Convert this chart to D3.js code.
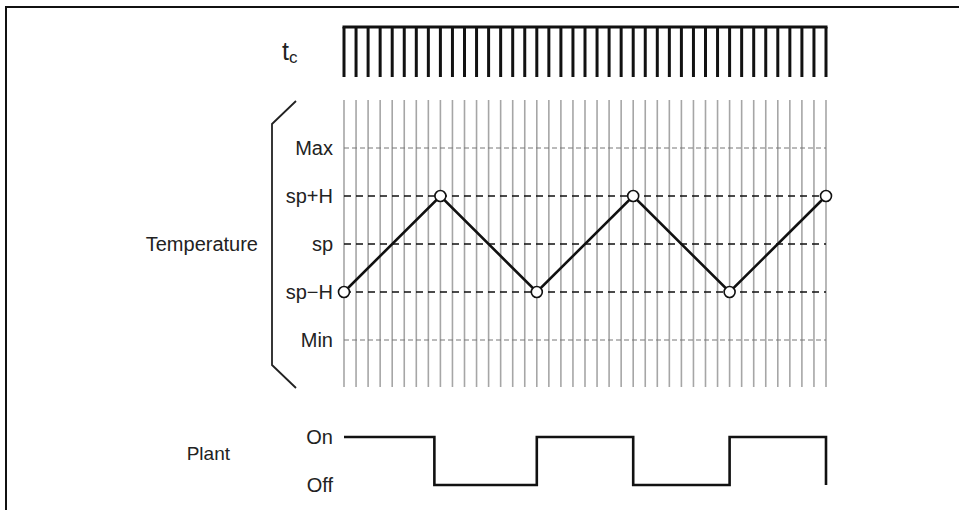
<!DOCTYPE html>
<html><head><meta charset="utf-8">
<script src="https://cdn.jsdelivr.net/npm/d3@7"></script>
<style>body{margin:0;background:#fff}svg{display:block;font-family:"Liberation Sans",Arial,sans-serif}</style>
</head><body>
<svg id="c" width="959" height="510"></svg>
<script>
// ---- data ----
const clockTicks = d3.range(0, 41);               // clock pulses t_c
const levels = ["Max", "sp+H", "sp", "sp-H", "Min"];
const levelLabels = ["Max", "sp+H", "sp", "sp\u2212H", "Min"];
const mainLevels = ["sp+H", "sp", "sp-H"];
const tempTimes = [0, 8, 16, 24, 32, 40];
const tempLevels = ["sp-H", "sp+H", "sp-H", "sp+H", "sp-H", "sp+H"];
const plantTimes = [0, 7.5, 7.5, 16, 16, 24, 24, 32, 32, 40, 40];
const plantStates = ["On", "On", "Off", "Off", "On", "On", "Off", "Off", "On", "On", "Off"];
const plantLevels = ["On", "Off"];

const svg = d3.select("#c");
const x = d3.scaleLinear().domain([0, 40]).range([344, 826]);
const y = d3.scalePoint().domain(levels).range([148, 340]);
const yp = d3.scalePoint().domain(plantLevels).range([437, 485]);
const txt = "#222";
const fs = 20;

// border
svg.append("path").attr("d", "M6,510V7H959").attr("fill", "none").attr("stroke", "#111").attr("stroke-width", 2);

// clock comb
const comb = svg.append("g");
comb.append("line").attr("x1", x(0) - 1.5).attr("x2", x(40) + 1.5).attr("y1", 27).attr("y2", 27)
  .attr("stroke", "#111").attr("stroke-width", 3);
comb.selectAll("line.t").data(clockTicks).join("line").attr("class", "t")
  .attr("x1", d => x(d)).attr("x2", d => x(d)).attr("y1", 27).attr("y2", 77)
  .attr("stroke", "#111").attr("stroke-width", 3);
const tc = svg.append("text").attr("x", 282).attr("y", 60).attr("fill", txt).attr("font-size", 25);
tc.append("tspan").text("t");
tc.append("tspan").attr("font-size", 17).attr("dy", 3).text("c");

// vertical grid
svg.append("g").selectAll("line").data(clockTicks).join("line")
  .attr("x1", d => x(d)).attr("x2", d => x(d)).attr("y1", 100).attr("y2", 387)
  .attr("stroke", "#a6a6a6").attr("stroke-width", 1.6);

// horizontal dashed levels
svg.append("g").selectAll("line").data(levels).join("line")
  .attr("x1", x(0)).attr("x2", x(40)).attr("y1", d => y(d)).attr("y2", d => y(d))
  .attr("stroke", d => mainLevels.includes(d) ? "#111" : "#777")
  .attr("stroke-width", d => mainLevels.includes(d) ? 1.6 : 1)
  .attr("stroke-dasharray", d => mainLevels.includes(d) ? "7,5" : "5,3");

// level labels
svg.append("g").selectAll("text").data(levels).join("text")
  .attr("x", 333).attr("y", d => y(d)).attr("dy", "0.35em").attr("text-anchor", "end")
  .attr("font-size", fs).attr("fill", txt).text((d, i) => levelLabels[i]);

// bracket
svg.append("path").attr("d", "M296,101L272,124V365L296,388").attr("fill", "none")
  .attr("stroke", "#222").attr("stroke-width", 1.8);
svg.append("text").attr("x", 258).attr("y", 244).attr("dy", "0.35em").attr("text-anchor", "end")
  .attr("font-size", fs).attr("fill", txt).text("Temperature");

// temperature line
const tempPts = tempTimes.map((t, i) => [x(t), y(tempLevels[i])]);
svg.append("path").attr("d", d3.line()(tempPts)).attr("fill", "none")
  .attr("stroke", "#111").attr("stroke-width", 2.6);
svg.append("g").selectAll("circle").data(tempPts).join("circle")
  .attr("cx", d => d[0]).attr("cy", d => d[1]).attr("r", 5.5)
  .attr("fill", "#fff").attr("stroke", "#111").attr("stroke-width", 1.6);

// plant
const plantPts = plantTimes.map((t, i) => [x(t), yp(plantStates[i])]);
svg.append("path").attr("d", d3.line()(plantPts)).attr("fill", "none")
  .attr("stroke", "#111").attr("stroke-width", 2.6).attr("stroke-linejoin", "miter");
svg.append("g").selectAll("text").data(plantLevels).join("text")
  .attr("x", 333).attr("y", d => yp(d)).attr("dy", "0.35em").attr("text-anchor", "end")
  .attr("font-size", fs).attr("fill", txt).text(d => d);
svg.append("text").attr("x", 230).attr("y", 453).attr("dy", "0.35em").attr("text-anchor", "end")
  .attr("font-size", 19).attr("fill", txt).text("Plant");
</script>
</body></html>
